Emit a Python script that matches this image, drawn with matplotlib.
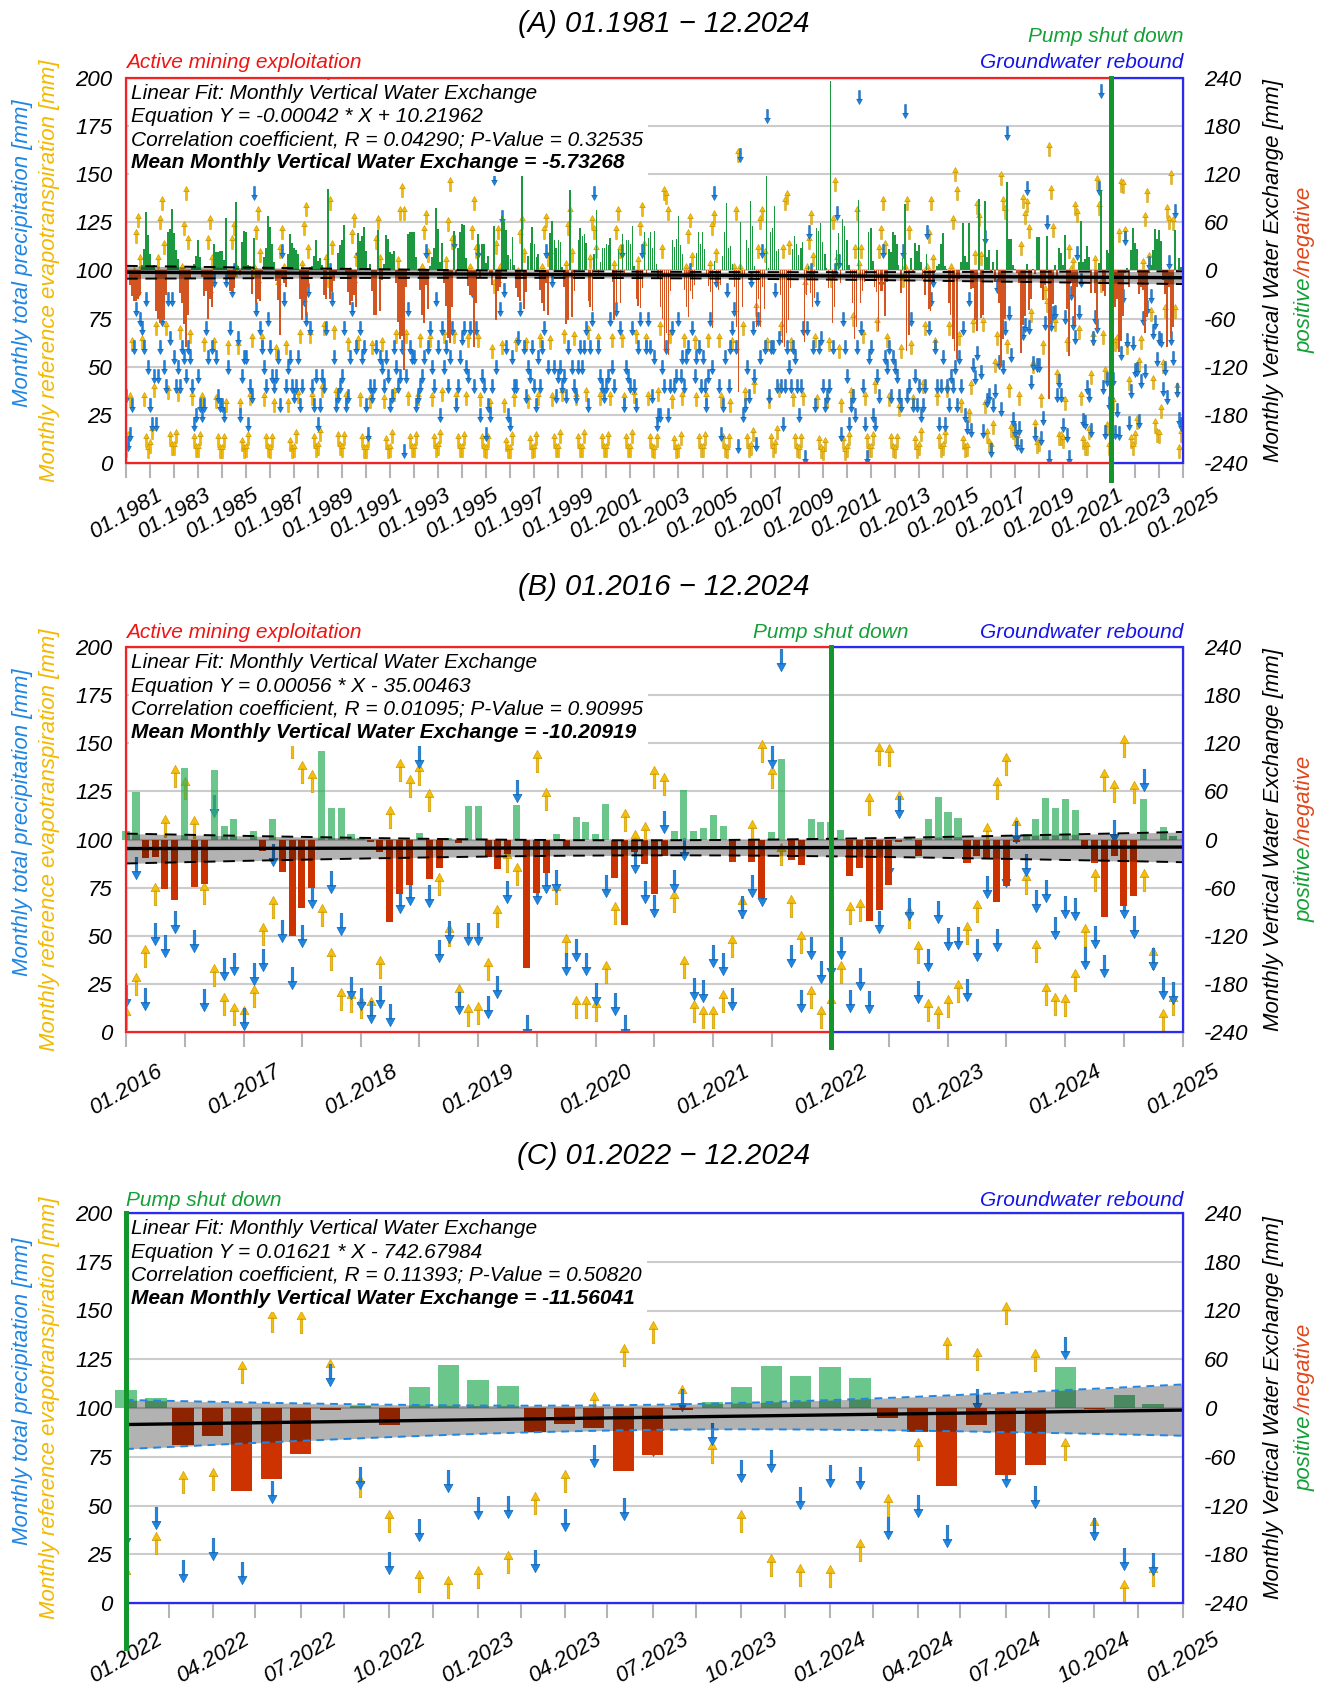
import datetime as dt
import numpy as np
import matplotlib
matplotlib.use('Agg')
import matplotlib.pyplot as plt
import matplotlib.dates as mdates
from matplotlib.path import Path
from matplotlib.patches import Rectangle

plt.rcParams['font.family'] = ['Liberation Sans', 'DejaVu Sans']
plt.rcParams['font.style'] = 'italic'
plt.rcParams['axes.unicode_minus'] = False

# ------------------------------------------------------------------ data
# monthly total precipitation [mm], one row per year (Jan..Dec)
P_1981_2015 = [
    [35, 10, 15, 30, 60, 80, 90, 75, 70, 60, 85, 50],
    [30, 20, 45, 20, 45, 60, 75, 50, 40, 85, 65, 85],
    [55, 40, 50, 40, 60, 55, 45, 60, 55, 40, 20, 25],
    [45, 30, 25, 30, 70, 55, 90, 60, 95, 55, 35, 30],
    [30, 25, 95, 50, 70, 90, 100, 185, 65, 25, 45, 55],
    [55, 20, 40, 35, 140, 80, 95, 70, 60, 50, 40, 75],
    [60, 45, 40, 45, 55, 30, 110, 85, 40, 50, 55, 40],
    [35, 40, 55, 30, 40, 85, 75, 90, 70, 40, 30, 45],
    [20, 30, 45, 40, 70, 197, 100, 85, 55, 30, 35, 40],
    [45, 70, 30, 35, 55, 80, 95, 60, 110, 70, 55, 60],
    [30, 15, 40, 35, 40, 60, 175, 55, 50, 40, 55, 45],
    [30, 35, 60, 50, 40, 45, 60, 6, 45, 80, 60, 55],
    [55, 30, 35, 40, 45, 55, 110, 60, 70, 50, 40, 85],
    [60, 25, 70, 50, 60, 40, 55, 70, 115, 30, 40, 55],
    [65, 70, 50, 45, 70, 90, 40, 70, 110, 25, 45, 40],
    [15, 30, 25, 40, 148, 50, 95, 80, 128, 90, 60, 25],
    [20, 55, 40, 40, 65, 80, 245, 60, 35, 50, 45, 60],
    [40, 30, 55, 40, 60, 70, 110, 50, 110, 95, 50, 35],
    [45, 50, 40, 45, 35, 60, 230, 50, 40, 35, 50, 60],
    [50, 60, 70, 30, 60, 75, 140, 186, 60, 45, 40, 35],
    [40, 45, 75, 50, 40, 80, 155, 70, 110, 30, 50, 45],
    [40, 70, 40, 30, 60, 75, 110, 160, 60, 75, 60, 35],
    [55, 20, 25, 25, 50, 40, 60, 25, 40, 70, 40, 45],
    [75, 45, 55, 40, 55, 60, 100, 70, 45, 55, 60, 40],
    [55, 40, 30, 45, 75, 50, 140, 95, 40, 15, 30, 55],
    [90, 40, 60, 70, 80, 60, 9, 160, 25, 30, 50, 35],
    [95, 70, 45, 10, 75, 55, 110, 60, 180, 35, 60, 60],
    [90, 40, 65, 40, 20, 40, 60, 50, 40, 60, 55, 40],
    [25, 40, 70, 3, 70, 120, 100, 60, 30, 85, 60, 65],
    [40, 30, 35, 40, 331, 60, 100, 130, 105, 15, 75, 60],
    [45, 20, 30, 35, 25, 60, 190, 70, 40, 20, 3, 55],
    [60, 25, 20, 45, 35, 95, 110, 55, 50, 60, 35, 55],
    [50, 45, 35, 30, 110, 183, 35, 40, 75, 30, 45, 30],
    [40, 25, 30, 40, 120, 70, 85, 95, 60, 40, 20, 40],
    [55, 20, 40, 30, 45, 40, 50, 30, 55, 40, 70, 25],
]
# monthly reference evapotranspiration [mm]
ET_1981_2015 = [
    [7, 13, 33, 62, 98, 118, 126, 105, 63, 33, 12, 6],
    [9, 16, 38, 70, 105, 125, 135, 112, 70, 37, 13, 8],
    [8, 14, 36, 68, 100, 122, 140, 115, 66, 34, 12, 7],
    [7, 13, 33, 62, 95, 115, 125, 105, 62, 32, 12, 6],
    [6, 12, 30, 60, 95, 115, 122, 100, 60, 30, 10, 6],
    [7, 13, 34, 64, 100, 120, 130, 108, 64, 33, 12, 7],
    [6, 12, 30, 58, 92, 110, 120, 100, 60, 30, 10, 6],
    [7, 14, 35, 66, 102, 122, 132, 110, 66, 34, 12, 7],
    [8, 15, 38, 70, 105, 95, 135, 112, 68, 36, 13, 8],
    [7, 13, 34, 62, 98, 118, 126, 106, 63, 33, 12, 6],
    [6, 12, 32, 60, 95, 115, 125, 105, 62, 32, 11, 6],
    [7, 14, 36, 66, 104, 130, 142, 130, 66, 34, 12, 7],
    [7, 13, 34, 64, 100, 120, 128, 108, 64, 33, 12, 7],
    [8, 14, 36, 66, 104, 124, 145, 115, 66, 34, 12, 7],
    [7, 13, 34, 64, 100, 120, 135, 110, 64, 33, 12, 7],
    [6, 12, 30, 58, 92, 112, 120, 100, 60, 30, 10, 6],
    [6, 13, 33, 62, 98, 118, 125, 108, 62, 32, 11, 6],
    [7, 13, 34, 64, 100, 120, 126, 106, 63, 33, 12, 7],
    [7, 14, 36, 66, 102, 122, 130, 108, 65, 34, 12, 7],
    [7, 14, 36, 68, 105, 125, 120, 110, 64, 34, 12, 7],
    [7, 13, 34, 64, 102, 120, 130, 110, 64, 33, 12, 7],
    [7, 14, 35, 66, 104, 122, 132, 112, 64, 34, 12, 7],
    [6, 12, 36, 70, 110, 140, 138, 130, 66, 32, 11, 6],
    [7, 13, 34, 64, 100, 118, 126, 106, 63, 33, 12, 7],
    [7, 13, 34, 64, 102, 122, 128, 108, 64, 33, 12, 7],
    [6, 12, 30, 62, 100, 130, 160, 100, 70, 36, 12, 7],
    [8, 15, 40, 80, 110, 125, 130, 108, 62, 32, 12, 7],
    [9, 16, 38, 70, 110, 135, 138, 112, 62, 33, 12, 7],
    [6, 12, 34, 92, 100, 115, 128, 106, 64, 32, 11, 6],
    [5, 10, 32, 62, 95, 125, 145, 105, 58, 30, 11, 5],
    [7, 13, 36, 75, 110, 130, 102, 110, 66, 34, 12, 7],
    [7, 13, 40, 72, 110, 120, 135, 112, 64, 33, 12, 7],
    [6, 12, 28, 58, 95, 100, 135, 120, 60, 32, 11, 6],
    [8, 15, 40, 70, 100, 118, 135, 105, 62, 34, 12, 7],
    [8, 14, 38, 70, 100, 125, 150, 140, 65, 30, 11, 7],
]
# monthly vertical water exchange [mm]
EX_1981_2015 = [
    [28, -3, -18, -32, -38, -38, -36, -30, 7, 27, 73, 44],
    [21, 4, 7, -50, -60, -65, -60, -62, -30, 48, 52, 77],
    [47, 26, 14, -28, -40, -67, -95, -55, -11, 6, 8, 18],
    [38, 17, -8, -32, -25, -60, -35, -45, 33, 23, 23, 24],
    [24, 13, 65, -10, -25, -25, -22, 85, 5, -5, 35, 49],
    [48, 7, 6, -29, 40, -40, -35, -38, -4, 17, 28, 68],
    [54, 33, 10, -13, -37, -80, -10, -15, -20, 20, 45, 34],
    [28, 26, 20, -36, -62, -37, -57, -20, 4, 6, 18, 38],
    [12, 15, 7, -30, -35, 102, -35, -27, -13, -6, 22, 32],
    [38, 57, -4, -27, -43, -38, -31, -46, 47, 37, 43, 54],
    [24, 3, 8, -25, -55, -55, 50, -50, -12, 8, 44, 39],
    [23, 21, 24, -16, -64, -85, -82, -124, -21, 46, 48, 48],
    [48, 17, 1, -24, -55, -65, -18, -48, 6, 17, 28, 78],
    [52, 11, 34, -16, -44, -84, -90, -45, 49, -4, 28, 48],
    [58, 57, 16, -19, -30, -30, -95, -40, 46, -8, 33, 33],
    [9, 18, -5, -18, 56, -62, -25, -20, 68, 60, 50, 19],
    [14, 42, 7, -22, -33, -38, 120, -48, -27, 18, 34, 54],
    [33, 17, 21, -24, -40, -50, -16, -56, 47, 62, 38, 28],
    [38, 36, 4, -21, -67, -62, 100, -58, -25, 1, 38, 53],
    [43, 46, 34, -38, -45, -50, 20, 76, -4, 11, 28, 28],
    [33, 32, 41, -14, -62, -40, 25, -40, 46, -3, 38, 38],
    [33, 56, 5, -36, -44, -47, -22, 48, -4, 41, 48, 28],
    [49, 8, -11, -45, -60, -100, -78, -105, -26, 38, 29, 39],
    [68, 32, 21, -24, -45, -58, -26, -36, -18, 22, 48, 33],
    [48, 27, -4, -19, -27, -72, 12, -13, -24, -18, 18, 48],
    [84, 28, 30, 8, -20, -70, -151, 60, -45, -6, 38, 28],
    [87, 55, 5, -70, -35, -70, -20, -48, 118, 3, 48, 53],
    [81, 24, 27, -30, -90, -95, -78, -62, -22, 27, 43, 33],
    [19, 28, 36, -89, -30, 5, -28, -46, -34, 53, 49, 59],
    [35, 20, 3, -22, 236, -65, -45, 25, 47, -15, 64, 55],
    [38, 7, -6, -40, -85, -70, 88, -40, -26, -14, -9, 48],
    [53, 12, -20, -27, -75, -25, -25, -57, -14, 27, 23, 48],
    [44, 33, 7, -28, 15, 83, -100, -80, 15, -2, 34, 24],
    [32, 10, -10, -30, 20, -48, -50, -10, -2, 6, 8, 33],
    [47, 6, 2, -40, -55, -85, -100, -110, -10, 10, 59, 18],
]
P_2016_2021 = [
    [18.9, 85.2, 17.1, 51, 44.8, 57, 215, 47.4, 16.5, 117.6, 32.7, 35.2],
    [7, 30.1, 37.4, 91.8, 52.6, 28, 50, 70, 171.6, 77.7, 56, 22.7],
    [17.1, 10.6, 18.4, 8.8, 67.4, 71.5, 142.7, 70.8, 42.2, 52, 14.9, 51],
    [51, 12.8, 23.2, 72.6, 125.2, 3.3, 72, 77.7, 78.5, 35.3, 42.4, 35.3],
    [19.7, 75.7, 14.5, 3.3, 88.1, 72.7, 65.3, 109, 78.6, 95, 22.3, 21.5],
    [39.7, 35.3, 17.1, 65.1, 76, 71, 143, 193, 39.7, 16.2, 43.5, 31],
]
ET_2016_2021 = [
    [7.1, 25, 39.7, 71.7, 107.2, 132.8, 127, 106.7, 72, 29.6, 14.5, 9.4],
    [8, 18.9, 51, 64.8, 93.6, 148, 135, 130.4, 60.8, 38, 17.1, 16.3],
    [13.2, 12.3, 33.6, 111.5, 136, 128, 134, 120.3, 76.9, 50.4, 19, 9],
    [9.7, 32.7, 60.4, 89, 82, 163, 141, 121, 72, 45.4, 13.2, 12.8],
    [11.4, 31, 61.8, 110, 99.4, 103.4, 132.6, 128.8, 68.2, 33.6, 11.1, 7.6],
    [8, 16.3, 44.8, 65, 104.6, 146, 132.6, 92.5, 65.6, 46.6, 18, 7.6],
]
EX_2016_2021 = [
    [10.6, 59.6, -22.6, -21.4, -62, -76, 88.7, -59.6, -55.5, 86.7, 17.2, 25.1],
    [-1, 10.6, -14.3, 25.6, -41, -120.3, -85, -60, 110.8, 38.9, 38.9, 6.9],
    [2, -2.7, -16, -103, -68, -56.7, 7.7, -49.7, -35, 1.5, -4, 42.2],
    [42.2, -21.4, -37.2, -18, 43, -159.9, -67, -42, 6.4, -9, 28.5, 21.4],
    [6.9, 44.3, -47.6, -106.6, -15.2, -31, -68, -20, 10.6, 61.7, 10.2, 13.9],
    [30.5, 17.2, -27.6, 0, -28.5, -73.4, 9.8, 100.4, -25.6, -31.8, 25, 22.2],
]
P_2022_2024 = [
    [35, 43.5, 16.2, 27.5, 15.5, 57, 87, 117, 64, 20.6, 37.5, 62.5],
    [48.5, 49, 21.7, 42.5, 75.5, 48, 81, 104, 86.7, 67.8, 73, 54],
    [65, 64, 38.5, 49.5, 34.5, 104.3, 65, 54.3, 131, 38, 22.8, 20.2],
]
ET_2022_2024 = [
    [13.5, 31, 62, 63.5, 118.4, 144.4, 144, 119.6, 60, 41.8, 11.4, 8],
    [13.3, 21.2, 51.5, 62.6, 102.8, 127, 139, 106, 77.6, 41.9, 19.5, 14.5],
    [13.8, 27, 50.2, 79, 131, 125.3, 148.8, 124.5, 79, 38.6, 6.2, 14.5],
]
EX_2022_2024 = [
    [22.4, 12.2, -45.3, -35, -101.6, -87.3, -57, -2.5, 3, -20.7, 25.3, 53.3],
    [34.3, 26.6, -29.7, -20.2, -24.8, -78, -57.7, -3, 7.3, 25.3, 52, 38.8],
    [50.4, 36.4, -11.7, -29.7, -96, -21, -83, -70, 51, -1, 16, 4.5],
]

PANEL_TITLES = ['(A) 01.1981 \u2212 12.2024', '(B) 01.2016 \u2212 12.2024', '(C) 01.2022 \u2212 12.2024']
PANEL_START = [1981, 2016, 2022]
FIT_SLOPE = [-0.00042, 0.00056, 0.01621]
FIT_INTERCEPT = [10.21962, -35.00463, -742.67984]
FIT_EQ = ['-0.00042 * X + 10.21962', '0.00056 * X - 35.00463', '0.01621 * X - 742.67984']
R_VALUES = ['0.04290', '0.01095', '0.11393']
P_VALUES = ['0.32535', '0.90995', '0.50820']
MEAN_VALUES = ['-5.73268', '-10.20919', '-11.56041']
T_CRIT = [1.965, 1.983, 2.032]
PUMP_SHUTDOWN = dt.date(2022, 1, 1)

def flat(rows):
    return [v for r in rows for v in r]

P_all = np.array(flat(P_1981_2015) + flat(P_2016_2021) + flat(P_2022_2024), float)
ET_all = np.array(flat(ET_1981_2015) + flat(ET_2016_2021) + flat(ET_2022_2024), float)
EX_all = np.array(flat(EX_1981_2015) + flat(EX_2016_2021) + flat(EX_2022_2024), float)
N = len(P_all)
month_dates = [dt.date(1981 + i // 12, i % 12 + 1, 1) for i in range(N)]
xm_all = mdates.date2num(month_dates)

# ------------------------------------------------------------------ style
W, H = 1328, 1688
fig = plt.figure(figsize=(W / 100, H / 100), dpi=100)
LEFT, RIGHT = 126, 1183
TOPS = [78, 647, 1213]
BOTS = [463, 1032, 1603]
TITLE_Y = [24, 587, 1156]

C_BLUE = '#1f86e3'; C_BLUE_E = '#1468b8'
C_YEL = '#f5bf10'; C_YEL_E = '#d29e00'
C_RED_BOX = '#f02424'; C_BLUE_BOX = '#2a2af0'
C_GREEN_LINE = '#13962c'; C_GREEN_TXT = '#14a036'
C_GRID = '#cccccc'

def arrow_path(up=True):
    s = 1.0 if up else -1.0
    verts = [(-0.055, -0.5 * s), (0.055, -0.5 * s), (0.055, 0.16 * s), (-0.055, 0.16 * s), (0, 0),
             (-0.2, 0.13 * s), (0.2, 0.13 * s), (0, 0.5 * s), (0, 0)]
    codes = [Path.MOVETO, Path.LINETO, Path.LINETO, Path.LINETO, Path.CLOSEPOLY,
             Path.MOVETO, Path.LINETO, Path.LINETO, Path.CLOSEPOLY]
    return Path(verts, codes)

UP = arrow_path(True)
DOWN = arrow_path(False)
renderer = fig.canvas.get_renderer()

for i in range(3):
    top, bot = TOPS[i], BOTS[i]
    hpx = bot - top
    ax = fig.add_axes([LEFT / W, 1 - bot / H, (RIGHT - LEFT) / W, hpx / H])
    ax2 = ax.twinx()
    y0 = PANEL_START[i]
    x0 = mdates.date2num(dt.date(y0, 1, 1))
    x1 = mdates.date2num(dt.date(2025, 1, 1))
    sel = xm_all >= x0
    x = xm_all[sel]; P = P_all[sel]; ET = ET_all[sel]; EX = EX_all[sel]

    ax.set_xlim(x0, x1); ax.set_ylim(0, 200)
    ax2.set_ylim(-240, 240)
    ax.set_yticks(np.arange(0, 201, 25))
    ax2.set_yticks(np.arange(-240, 241, 60))
    ax.grid(axis='y', color=C_GRID, lw=1.5)
    ax.set_axisbelow(True)
    for a in (ax, ax2):
        for sp in a.spines.values():
            sp.set_color('#c4c4c4'); sp.set_linewidth(1.0)
    ax.tick_params(axis='y', length=0, pad=10, labelsize=16)
    ax2.tick_params(axis='y', length=0, pad=15, labelsize=16)

    # arrows: evapotranspiration (up, yellow) and precipitation (down, blue)
    ms = 10 if i == 0 else 16
    ax.plot(x, ET, ls='none', marker=UP, ms=ms, mfc=C_YEL, mec=C_YEL_E, mew=0.5, zorder=3)
    ax.plot(x, P, ls='none', marker=DOWN, ms=ms, mfc=C_BLUE, mec=C_BLUE_E, mew=0.5, zorder=3)

    # bars
    if i == 0:
        gcol, rcol = (0.11, 0.60, 0.25, 1.0), (0.82, 0.33, 0.13, 1.0)
        bw, aa = 26, False
    else:
        gcol, rcol = (0.19, 0.69, 0.37, 0.72), (0.80, 0.20, 0.0, 1.0)
        bw, aa = 22, True
    cols = [gcol if v >= 0 else rcol for v in EX]
    ax2.bar(x, EX, width=bw, color=cols, lw=0, zorder=3, clip_on=False, antialiased=aa)

    # linear fit + confidence band (X in spreadsheet serial days)
    a, b = FIT_SLOPE[i], FIT_INTERCEPT[i]
    X = x + 25569.0
    res = EX - (a * X + b)
    n = len(X)
    s = np.sqrt(np.sum(res ** 2) / (n - 2))
    Xm = X.mean(); Sxx = np.sum((X - Xm) ** 2)
    xg = np.linspace(x0, x1, 300)
    Xg = xg + 25569.0
    yg = a * Xg + b
    hw = T_CRIT[i] * s * np.sqrt(1.0 / n + (Xg - Xm) ** 2 / Sxx)
    ax2.fill_between(xg, yg - hw, yg + hw, color='black', alpha=0.30, lw=0, zorder=4)
    dcol = C_BLUE if i == 2 else 'black'
    dash = (0, (4, 3)) if i == 2 else (0, (6, 4))
    ax2.plot(xg, yg + hw, color=dcol, ls=dash, lw=1.4, zorder=5)
    ax2.plot(xg, yg - hw, color=dcol, ls=dash, lw=1.4, zorder=5)
    ax2.plot(xg, yg, color='black', lw=2.4, zorder=6)

    # region boxes and pump shut down line
    xp = mdates.date2num(PUMP_SHUTDOWN)
    if i < 2:
        ax2.add_patch(Rectangle((x0, -240), xp - x0, 480, fill=False, ec=C_RED_BOX, lw=1.6,
                                zorder=11, clip_on=False))
    ax2.add_patch(Rectangle((xp, -240), x1 - xp, 480, fill=False, ec=C_BLUE_BOX, lw=1.6,
                            zorder=11, clip_on=False))
    ext = [0.045, 0.04, 0.115][i]
    ax2.axvline(xp, ymin=-ext, ymax=1, color=C_GREEN_LINE, lw=3.6, zorder=12, clip_on=False)

    # x ticks
    if i == 0:
        maj = [dt.date(y, 1, 1) for y in range(1981, 2026, 2)]
        mnr = [dt.date(y, 1, 1) for y in range(1982, 2025, 2)]
    elif i == 1:
        maj = [dt.date(y, 1, 1) for y in range(2016, 2026)]
        mnr = [dt.date(y, 7, 1) for y in range(2016, 2025)]
    else:
        maj = [dt.date(2022 + q // 4, 3 * (q % 4) + 1, 1) for q in range(13)]
        mnr = [dt.date(2022 + q // 4, 3 * (q % 4) + 2, 15) for q in range(12)]
    ax.set_xticks(mdates.date2num(maj))
    ax.set_xticklabels(['%02d.%d' % (d.month, d.year) for d in maj], rotation=30, ha='center')
    ax.set_xticks(mdates.date2num(mnr), minor=True)
    ax.tick_params(axis='x', which='both', length=11, width=1.5, color='#b4b4b4',
                   labelsize=16, pad=[5, 10, 8][i])
    ax2.tick_params(axis='x', which='both', length=0)

    # region annotations
    ylab = 1 + [10, 9, 7][i] / hpx
    if i < 2:
        ax2.text(0.0, ylab, 'Active mining exploitation', transform=ax2.transAxes, color='#f01414',
                 fontsize=15, ha='left', va='baseline')
    ax2.text(1.0, ylab, 'Groundwater rebound', transform=ax2.transAxes, color='#1414e6',
             fontsize=15, ha='right', va='baseline')
    if i == 0:
        ax2.text(1.0, 1 + 36 / hpx, 'Pump shut down', transform=ax2.transAxes, color=C_GREEN_TXT,
                 fontsize=15, ha='right', va='baseline')
    elif i == 1:
        ax2.text(xp, ylab, 'Pump shut down', transform=ax2.get_xaxis_transform(), color=C_GREEN_TXT,
                 fontsize=15, ha='center', va='baseline')
    else:
        ax2.text(0.0, ylab, 'Pump shut down', transform=ax2.transAxes, color=C_GREEN_TXT,
                 fontsize=15, ha='left', va='baseline')

    # statistics box
    lines = ['Linear Fit: Monthly Vertical Water Exchange',
             'Equation Y = ' + FIT_EQ[i],
             'Correlation coefficient, R = %s; P-Value = %s' % (R_VALUES[i], P_VALUES[i]),
             'Mean Monthly Vertical Water Exchange = ' + MEAN_VALUES[i]]
    texts = []
    for j, (ln, d) in enumerate(zip(lines, [16, 39, 62, 85])):
        t = ax2.text(5 / (RIGHT - LEFT), 1 - d / hpx, ln, transform=ax2.transAxes, fontsize=15,
                     ha='left', va='center', zorder=21,
                     fontweight='bold' if j == 3 else 'normal')
        texts.append(t)
    exts = [t.get_window_extent(renderer) for t in texts]
    bx1 = max(e.x1 for e in exts) + 5
    by0 = min(e.y0 for e in exts) - 4
    inv = ax2.transAxes.inverted()
    ax1x, ax0y = inv.transform((bx1, by0))
    ax2.add_patch(Rectangle((0.003, ax0y), ax1x - 0.003, 0.995 - ax0y, transform=ax2.transAxes,
                            fc='white', ec='none', zorder=20))

    # titles and axis labels
    fig.text(0.5, 1 - TITLE_Y[i] / H, PANEL_TITLES[i], fontsize=21, ha='center', va='center')
    yc = 1 - (top + bot) / 2 / H
    fig.text(23 / W, yc + 17 / H, 'Monthly total precipitation [mm]', rotation=90, color=C_BLUE,
             fontsize=16, ha='center', va='center')
    fig.text(50 / W, yc, 'Monthly reference evapotranspiration [mm]', rotation=90, color='#f2b900',
             fontsize=16, ha='center', va='center')
    fig.text(1274 / W, yc, 'Monthly Vertical Water Exchange [mm]', rotation=90, color='black',
             fontsize=16, ha='center', va='center')
    t1 = fig.text(1311 / W, yc, 'positive', rotation=90, rotation_mode='anchor', color=C_GREEN_TXT,
                  fontsize=16, ha='right', va='baseline')
    t2 = fig.text(1311 / W, yc, '/negative', rotation=90, rotation_mode='anchor', color='#e0481c',
                  fontsize=16, ha='left', va='baseline')
    w1 = t1.get_window_extent(renderer).height
    w2 = t2.get_window_extent(renderer).height
    ysplit = yc + (w1 - w2) / 2 / H
    t1.set_y(ysplit); t2.set_y(ysplit)

fig.savefig('out.png', dpi=100)
